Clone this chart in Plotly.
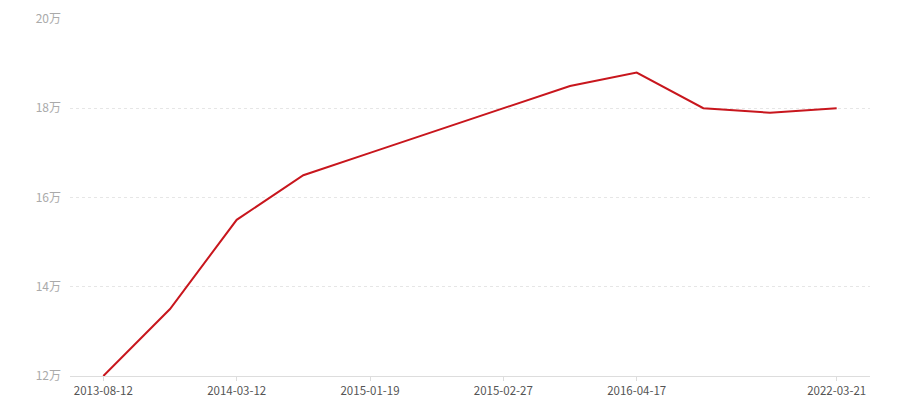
import plotly.graph_objects as go

idx = list(range(12))
values = [12, 13.5, 15.5, 16.5, 17, 17.5, 18, 18.5, 18.8, 18, 17.9, 18]  # 万
tick_idx = [0, 2, 4, 6, 8, 11]
tick_labels = ["2013-08-12", "2014-03-12", "2015-01-19", "2015-02-27", "2016-04-17", "2022-03-21"]
y_ticks = [12, 14, 16, 18, 20]

fig = go.Figure()
fig.add_trace(go.Scatter(x=idx, y=values, mode="lines",
                         line=dict(color="#c8161d", width=2), hoverinfo="x+y"))

fig.update_layout(
    width=900, height=400,
    margin=dict(l=70, r=30, t=19, b=24),
    plot_bgcolor="white", paper_bgcolor="white",
    showlegend=False,
    font=dict(family="Noto Sans CJK SC, sans-serif", size=12),
)
fig.update_xaxes(
    range=[-0.5, 11.5], tickmode="array", tickvals=tick_idx, ticktext=tick_labels,
    showgrid=False, showline=True, linecolor="#dddddd", linewidth=1,
    ticks="outside", ticklen=4, tickcolor="#dddddd", automargin=False,
    tickfont=dict(color="#555555", size=11.5), zeroline=False,
)
fig.update_yaxes(
    range=[12, 20], tickmode="array", tickvals=y_ticks,
    ticktext=[f"{v}万" for v in y_ticks],
    showgrid=True, gridcolor="#e6e6e6", griddash="3px,3px", gridwidth=1,
    showline=False, zeroline=False, ticks="", ticklabelstandoff=8, automargin=False,
    tickfont=dict(color="#aaaaaa", size=12),
)
fig.write_html("out.html", config={"displayModeBar": False},
               post_script="document.body.style.margin='0';")
